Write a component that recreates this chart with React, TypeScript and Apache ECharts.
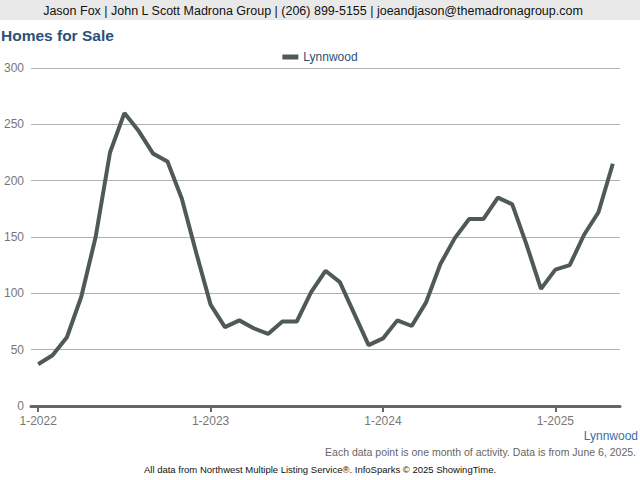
import React, { useEffect, useRef } from "react";
import * as echarts from "echarts";

const months: string[] = [];
for (let y = 2022; y <= 2025; y++) {
  for (let m = 1; m <= 12; m++) {
    if (y === 2025 && m > 5) break;
    months.push(`${m}-${y}`);
  }
}

const lynnwood = [
  37, 45, 61, 97, 150, 225, 260, 244, 224, 217, 184, 136,
  90, 70, 76, 69, 64, 75, 75, 101, 120, 110, 82, 54,
  60, 76, 71, 92, 126, 149, 166, 166, 185, 179, 143, 104,
  121, 125, 152, 172, 215,
];

const headerText = "Jason Fox | John L Scott Madrona Group | (206) 899-5155 | joeandjason@themadronagroup.com";
const titleText = "Homes for Sale";
const seriesName = "Lynnwood";
const noteText = "Each data point is one month of activity. Data is from June 6, 2025.";
const sourceText = "All data from Northwest Multiple Listing Service®. InfoSparks © 2025 ShowingTime.";

const FONT = "'Liberation Sans', Arial, sans-serif";

export default function App() {
  const ref = useRef<HTMLDivElement>(null);
  useEffect(() => {
    if (!ref.current) return;
    const chart = echarts.init(ref.current, undefined, { renderer: "svg" });
    chart.setOption({
      animation: false,
      textStyle: { fontFamily: FONT },
      graphic: [
        { type: "rect", left: 0, top: 0, shape: { width: 640, height: 20 }, style: { fill: "#e9e9e9" } },
        {
          type: "text", x: 313, y: 11,
          style: { text: headerText, fill: "#111", font: `12.5px ${FONT}`, textAlign: "center", textVerticalAlign: "middle" },
        },
        {
          type: "text", x: 1, y: 35,
          style: { text: titleText, fill: "#2c5079", font: `bold 15.5px ${FONT}`, textAlign: "left", textVerticalAlign: "middle" },
        },
        {
          type: "text", x: 638, y: 436,
          style: { text: seriesName, fill: "#3d6fa3", font: `12px ${FONT}`, textAlign: "right", textVerticalAlign: "middle" },
        },
        {
          type: "text", x: 636, y: 452,
          style: { text: noteText, fill: "#666", font: `10.5px ${FONT}`, textAlign: "right", textVerticalAlign: "middle" },
        },
        {
          type: "text", x: 320, y: 469,
          style: { text: sourceText, fill: "#111", font: `9.5px ${FONT}`, textAlign: "center", textVerticalAlign: "middle" },
        },
      ],
      legend: {
        top: 46,
        left: "center",
        data: [seriesName],
        icon: "rect",
        itemWidth: 16,
        itemHeight: 5,
        itemGap: 6,
        textStyle: { color: "#2c5079", fontSize: 12, fontFamily: FONT },
      },
      grid: { left: 31, right: 20, top: 68, bottom: 74, containLabel: false },
      xAxis: {
        type: "category",
        data: months,
        boundaryGap: true,
        axisLine: { lineStyle: { color: "#666", width: 3 } },
        axisTick: {
          show: true,
          alignWithLabel: true,
          interval: (i: number) => i % 12 === 0,
          length: 6,
          lineStyle: { color: "#666", width: 2 },
        },
        axisLabel: {
          interval: (i: number) => i % 12 === 0,
          color: "#777",
          fontSize: 12,
          margin: 9,
          fontFamily: FONT,
        },
        splitLine: { show: false },
      },
      yAxis: {
        type: "value",
        min: 0,
        max: 300,
        interval: 50,
        axisLine: { show: false },
        axisTick: { show: false },
        axisLabel: { color: "#777", fontSize: 12, margin: 7, fontFamily: FONT },
        splitLine: { lineStyle: { color: "#b0b0b0", width: 1 } },
      },
      series: [
        {
          name: seriesName,
          type: "line",
          data: lynnwood,
          showSymbol: false,
          symbol: "none",
          lineStyle: { color: "#4f5a58", width: 4 },
          itemStyle: { color: "#4f5a58" },
        },
      ],
    });
    return () => chart.dispose();
  }, []);
  return (
    <div
      ref={ref}
      style={{ position: "absolute", left: 0, top: 0, width: 640, height: 480, background: "#fff" }}
    />
  );
}
